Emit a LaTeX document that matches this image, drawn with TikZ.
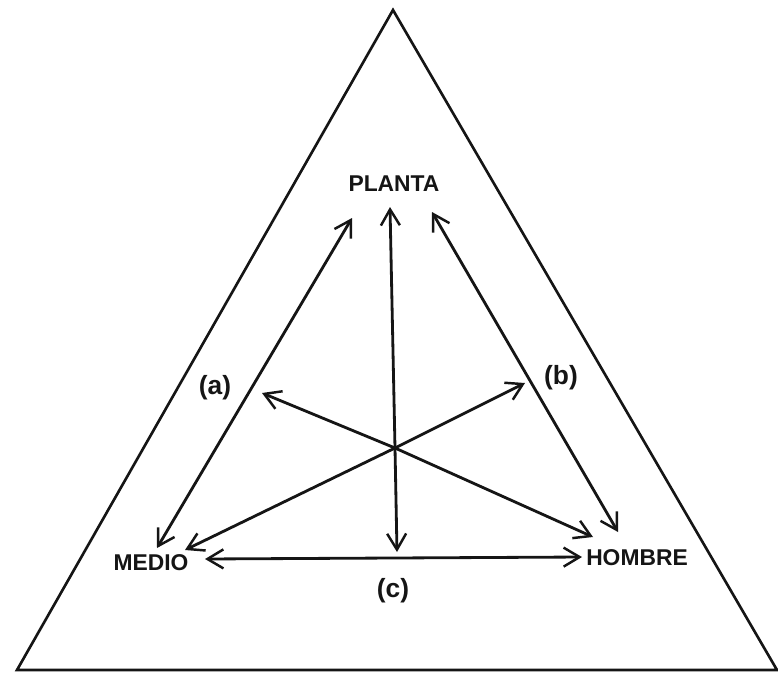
\documentclass[tikz,border=0pt]{standalone}
\usepackage{fontspec}
\setmainfont{Liberation Sans}
\usetikzlibrary{arrows.meta, positioning, calc}
\definecolor{ink}{HTML}{151515}
\tikzset{
  corner/.style={draw=ink, line width=1.5pt, line join=miter},
  word/.style={font=\fontsize{13}{15}\selectfont\bfseries, text=ink, inner sep=1pt},
  tag/.style={font=\fontsize{15}{17}\selectfont\bfseries, text=ink, inner sep=1pt},
  link/.style={{Straight Barb[length=3.2mm,width=3.8mm,line width=1.4pt]}-{Straight Barb[length=3.2mm,width=3.8mm,line width=1.4pt]},
               draw=ink, line width=1.6pt},
}
\begin{document}
\begin{tikzpicture}[x=0.02cm, y=-0.02cm]
\useasboundingbox (0,0) rectangle (778,673);
% big triangle
\coordinate (apex) at (393,10);
\coordinate (left) at (17,670);
\coordinate (right) at (777,670);
\draw[corner] (apex) -- (left) -- (right) -- cycle;
% the three words
\node[word] (planta) at (394,184) {PLANTA};
\node[word] (medio)  at (151,563) {MEDIO};
\node[word] (hombre) at (637,558) {HOMBRE};
\coordinate (hub) at (395,448);
% arrow ends
\coordinate (pTop)  at (390,207);
\coordinate (pLow)  at (397,552);
\coordinate (aTop)  at (352,218);
\coordinate (aLow)  at (157,548);
\coordinate (bTop)  at (432,212);
\coordinate (bLow)  at (618,532);
\coordinate (cLeft) at (205,559);
\coordinate (cRight) at (582,557);
\coordinate (xUpL)  at (262,393);
\coordinate (xLowR) at (593,537);
\coordinate (xUpR)  at (525,383);
\coordinate (xLowL) at (185,550);
% connectors
\draw[link] (aTop) -- (aLow);
\draw[link] (bTop) -- (bLow);
\draw[link] (cLeft) -- (cRight);
\draw[link] (pTop) -- (hub) -- (pLow);
\draw[link] (xUpL) -- (hub) -- (xLowR);
\draw[link] (xUpR) -- (hub) -- (xLowL);
% labels
\node[tag] (la) at (215,388) {(a)};
\node[tag] (lb) at (561,378) {(b)};
\node[tag] (lc) at (393,591) {(c)};
\end{tikzpicture}
\end{document}
